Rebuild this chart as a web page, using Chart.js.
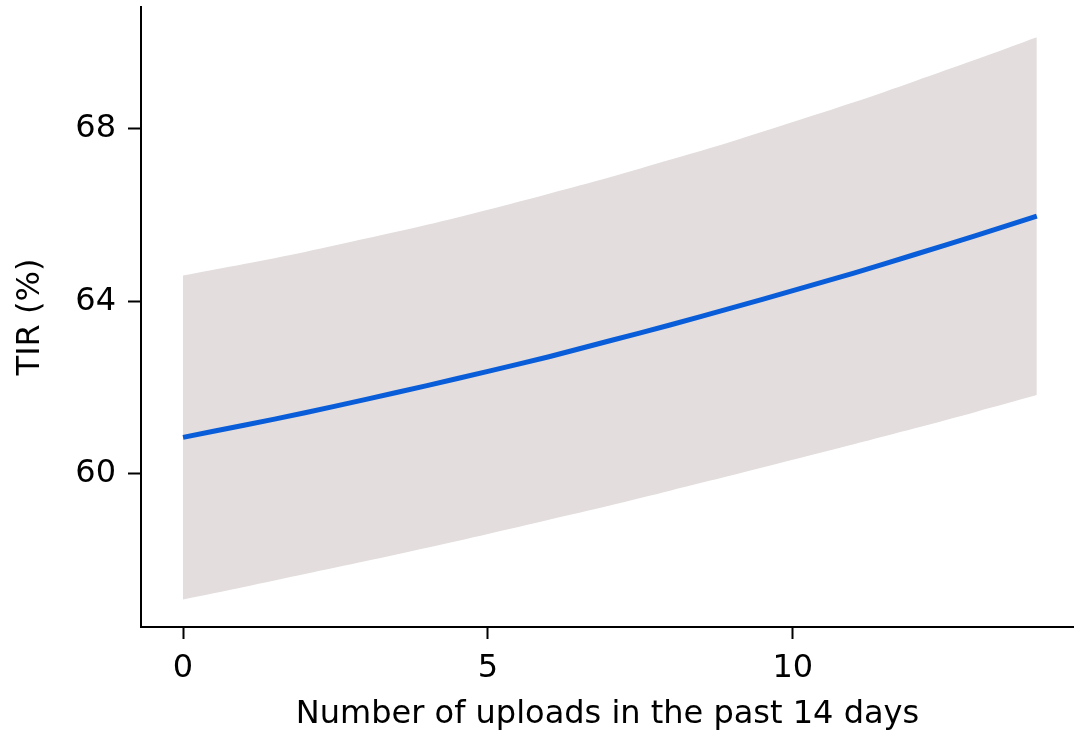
<!DOCTYPE html>
<html>
<head>
<meta charset="utf-8">
<script src="https://cdn.jsdelivr.net/npm/chart.js@4/dist/chart.umd.min.js"></script>
<style>
  html, body { margin: 0; padding: 0; background: #ffffff; }
  #wrap { width: 1074px; height: 731px; position: relative; }
</style>
</head>
<body>
<div id="wrap"><canvas id="c" width="1074" height="731"></canvas></div>
<script>
// Number of uploads in the past 14 days
const uploads = [0, 1, 2, 3, 4, 5, 6, 7, 8, 9, 10, 11, 12, 13, 14];
// Fitted time in range (%)
const tirFit = [60.85, 61.13, 61.42, 61.73, 62.05, 62.38, 62.72, 63.09, 63.46, 63.85, 64.25, 64.66, 65.09, 65.53, 65.98];
// Confidence band limits
const ciUpper = [64.60, 64.87, 65.15, 65.46, 65.78, 66.13, 66.50, 66.88, 67.29, 67.71, 68.16, 68.62, 69.11, 69.61, 70.13];
const ciLower = [57.09, 57.38, 57.68, 57.98, 58.29, 58.61, 58.94, 59.27, 59.62, 59.97, 60.33, 60.69, 61.06, 61.44, 61.83];
// Axis ticks
const xTicks = [0, 5, 10];
const yTicks = [60, 64, 68];

const pts = (ys) => uploads.map((x, i) => ({ x: x, y: ys[i] }));

const FONT = "'DejaVu Sans', Verdana, sans-serif";
const BAND = '#e3dddd';
const BLUE = '#0a5dd8';

// Keep the plot area exactly where the layout padding puts it
function noEdgePadding(s) {
  s.paddingTop = 0;
  s.paddingBottom = 0;
  s.paddingLeft = 0;
  s.paddingRight = 0;
}

new Chart(document.getElementById('c'), {
  type: 'line',
  data: {
    datasets: [
      {
        data: pts(ciUpper),
        borderWidth: 0,
        pointRadius: 0,
        backgroundColor: BAND,
        fill: '+1',
        tension: 0.3,
        order: 2
      },
      {
        data: pts(ciLower),
        borderWidth: 0,
        pointRadius: 0,
        backgroundColor: BAND,
        fill: false,
        tension: 0.3,
        order: 2
      },
      {
        data: pts(tirFit),
        borderColor: BLUE,
        borderWidth: 5,
        borderCapStyle: 'butt',
        pointRadius: 0,
        fill: false,
        tension: 0.3,
        order: 1
      }
    ]
  },
  options: {
    responsive: false,
    animation: false,
    events: [],
    layout: { padding: { top: 7, right: 0, bottom: 0, left: 0 } },
    plugins: { legend: { display: false }, tooltip: { enabled: false } },
    scales: {
      x: {
        type: 'linear',
        min: -0.689,
        max: 14.61,
        afterFit: (s) => { s.height = 104; noEdgePadding(s); },
        afterBuildTicks: (s) => { s.ticks = xTicks.map(v => ({ value: v })); },
        grid: { drawOnChartArea: false, drawTicks: true, tickLength: 12, tickWidth: 2, tickColor: '#000' },
        border: { display: true, color: '#000', width: 2 },
        ticks: { color: '#000', padding: 10, font: { family: FONT, size: 32 }, maxRotation: 0 },
        title: {
          display: true,
          text: 'Number of uploads in the past 14 days',
          color: '#000',
          font: { family: FONT, size: 32, lineHeight: 1 },
          padding: { top: 0, bottom: 0 }
        }
      },
      y: {
        type: 'linear',
        min: 56.452,
        max: 70.829,
        afterFit: (s) => { s.width = 141; noEdgePadding(s); },
        afterBuildTicks: (s) => { s.ticks = yTicks.map(v => ({ value: v })); },
        grid: { drawOnChartArea: false, drawTicks: true, tickLength: 13, tickWidth: 2, tickColor: '#000' },
        border: { display: true, color: '#000', width: 2 },
        ticks: { color: '#000', padding: 12, font: { family: FONT, size: 32 } },
        title: {
          display: true,
          text: 'TIR (%)',
          color: '#000',
          font: { family: FONT, size: 32, lineHeight: 1 },
          padding: { top: 15, bottom: 0 }
        }
      }
    }
  }
});
</script>
</body>
</html>
